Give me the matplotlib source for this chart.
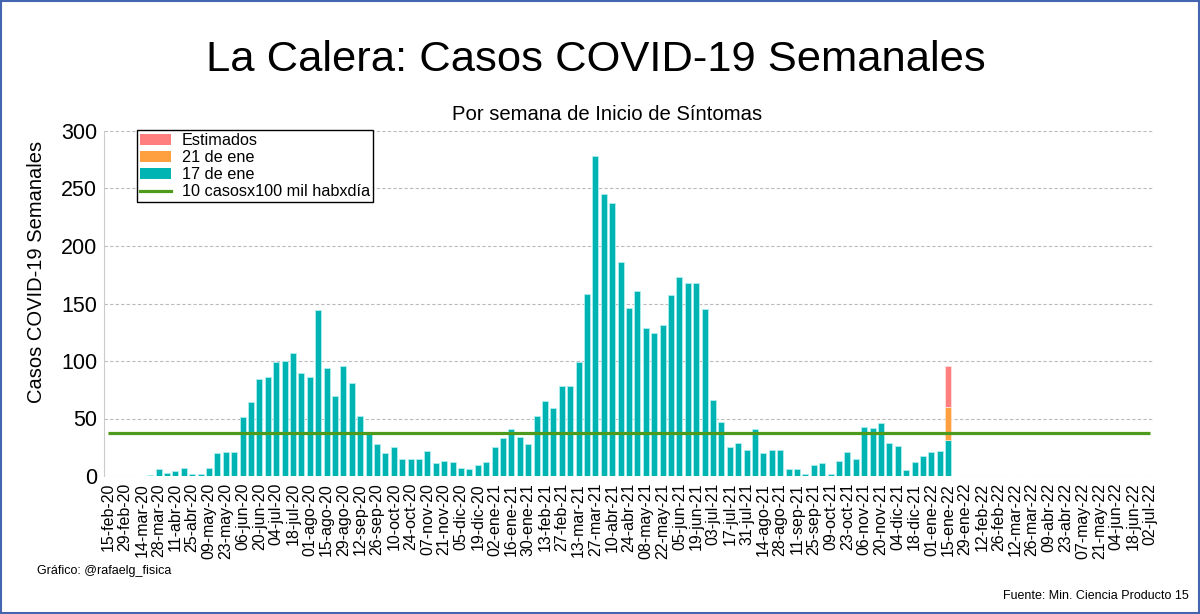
import matplotlib
matplotlib.use("Agg")
import matplotlib.pyplot as plt
from matplotlib.patches import Rectangle, Patch
from matplotlib.lines import Line2D
import numpy as np

plt.rcParams['font.family'] = ['Liberation Sans', 'DejaVu Sans']

# Tick labels (every second week, from 15-feb-20 to 02-jul-22)
tick_labels = [
    "15-feb-20", "29-feb-20", "14-mar-20", "28-mar-20", "11-abr-20", "25-abr-20",
    "09-may-20", "23-may-20", "06-jun-20", "20-jun-20", "04-jul-20", "18-jul-20",
    "01-ago-20", "15-ago-20", "29-ago-20", "12-sep-20", "26-sep-20", "10-oct-20",
    "24-oct-20", "07-nov-20", "21-nov-20", "05-dic-20", "19-dic-20", "02-ene-21",
    "16-ene-21", "30-ene-21", "13-feb-21", "27-feb-21", "13-mar-21", "27-mar-21",
    "10-abr-21", "24-abr-21", "08-may-21", "22-may-21", "05-jun-21", "19-jun-21",
    "03-jul-21", "17-jul-21", "31-jul-21", "14-ago-21", "28-ago-21", "11-sep-21",
    "25-sep-21", "09-oct-21", "23-oct-21", "06-nov-21", "20-nov-21", "04-dic-21",
    "18-dic-21", "01-ene-22", "15-ene-22", "29-ene-22", "12-feb-22", "26-feb-22",
    "12-mar-22", "26-mar-22", "09-abr-22", "23-abr-22", "07-may-22", "21-may-22",
    "04-jun-22", "18-jun-22", "02-jul-22",
]
n_weeks = 125  # weekly categories, labels shown every 2 weeks

# Weekly cases (report of 17 de ene), from week of 15-feb-20
casos_17ene = [
    0, 0, 0, 0, 0, 1, 6, 3, 4, 7,
    2, 2, 7, 20, 21, 21, 51, 64, 84, 86,
    99, 100, 107, 90, 86, 144, 94, 70, 96, 81,
    52, 38, 28, 20, 25, 15, 15, 15, 22, 11,
    13, 12, 7, 6, 10, 12, 25, 33, 41, 34,
    28, 52, 65, 59, 78, 78, 99, 158, 278, 245,
    237, 186, 146, 161, 129, 124, 131, 157, 173, 168,
    168, 145, 66, 47, 25, 29, 23, 41, 20, 23,
    23, 6, 6, 2, 10, 11, 2, 13, 21, 15,
    43, 42, 46, 29, 26, 5, 12, 17, 21, 22,
    31,
]
# Extra for last week
extra_21ene = [29]
estimados = [36]
umbral = 37.6  # 10 casos x 100 mil hab x dia (semanal)

teal = "#00b4b4"
orange = "#ffa040"
salmon = "#ff7f7f"
green = "#4e9a1c"

fig = plt.figure(figsize=(12, 6.14), dpi=100)
ax = fig.add_axes([104/1200, 1-476/614, 1050/1200, 345/614])

x = np.arange(len(casos_17ene))
ax.bar(x, casos_17ene, width=0.7, color=teal, edgecolor="#aeeeee", linewidth=0.6, zorder=3)
last = len(casos_17ene) - 1
ax.bar([last], extra_21ene, bottom=[casos_17ene[last]], width=0.7, color=orange,
       edgecolor="#ffe0c0", linewidth=0.6, zorder=3)
ax.bar([last], estimados, bottom=[casos_17ene[last] + extra_21ene[0]], width=0.7,
       color=salmon, edgecolor="#ffe0e0", linewidth=0.6, zorder=3)
xl = np.arange(n_weeks)
ax.plot(xl, [umbral] * n_weeks, color=green, lw=2.3, zorder=4, solid_capstyle='butt')

ax.set_xlim(-0.5, n_weeks - 0.5)
ax.set_ylim(0, 300)
ax.set_yticks(range(0, 301, 50))
ax.set_xticks(np.arange(0, n_weeks, 2))
ax.set_xticklabels(tick_labels, rotation=90, fontsize=11.5)
ax.tick_params(axis='y', labelsize=15.5, length=0, pad=5)
ax.tick_params(axis='x', length=0, pad=5)
ax.yaxis.grid(True, color="#bbbbbb", linestyle=(0, (3, 2)), linewidth=0.8, zorder=0)
ax.set_axisbelow(True)
for s in ['top', 'right', 'bottom']:
    ax.spines[s].set_visible(False)
ax.spines['left'].set_color("#cccccc")

handles = [
    Patch(facecolor=salmon, edgecolor='none', label="Estimados"),
    Patch(facecolor=orange, edgecolor='none', label="21 de ene"),
    Patch(facecolor=teal, edgecolor='none', label="17 de ene"),
    Line2D([0], [0], color=green, lw=2.3, label="10 casosx100 mil habxdía"),
]
leg = ax.legend(handles=handles, loc='upper left', bbox_to_anchor=(0.031, 1.003),
                borderaxespad=0, fontsize=11.7, frameon=True, fancybox=False,
                edgecolor='black', framealpha=1, handlelength=1.9, handleheight=0.6,
                labelspacing=0.12, borderpad=0.2, handletextpad=0.7)
leg.get_frame().set_linewidth(1.0)
leg.get_frame().set_boxstyle('square', pad=0.0)

fig.text(596/1200, 1-60/614, "La Calera: Casos COVID-19 Semanales", ha='center', va='center', fontsize=31.3)
fig.text(607/1200, 1-115/614, "Por semana de Inicio de Síntomas", ha='center', va='center', fontsize=14.6)
fig.text(37/1200, 1-272/614, "Casos COVID-19 Semanales", rotation=90, ha='center', va='center', fontsize=14.5)
fig.text(37/1200, 1-571/614, "Gráfico: @rafaelg_fisica", ha='left', va='center', fontsize=9)
fig.text(1189/1200, 1-596/614, "Fuente: Min. Ciencia Producto 15", ha='right', va='center', fontsize=9)

fig.patches.append(Rectangle((0.001, 0.002), 0.998, 0.996, transform=fig.transFigure,
                             fill=False, edgecolor="#4466b0", linewidth=1.5))

fig.savefig("out.png", dpi=100)
